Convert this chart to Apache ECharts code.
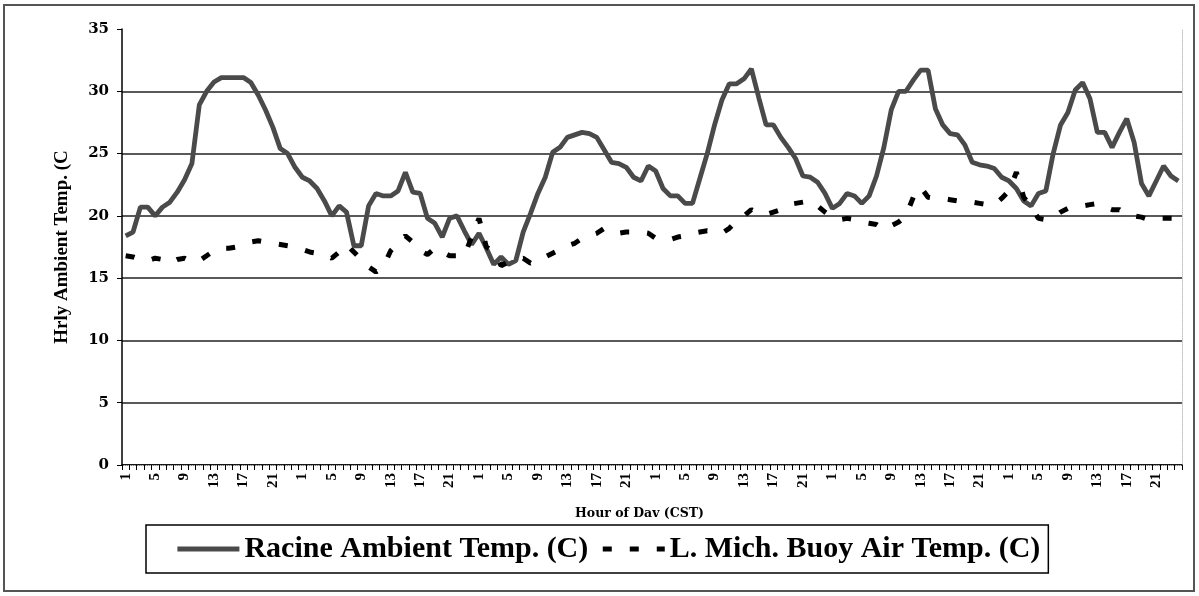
<!DOCTYPE html>
<html>
<head>
<meta charset="utf-8">
<script src="https://cdn.jsdelivr.net/npm/echarts@6/dist/echarts.min.js"></script>
<style>
html,body{margin:0;padding:0;background:#fff;}
#chart{width:1199px;height:596px;}
</style>
</head>
<body>
<div id="chart"></div>
<script>
// Hour-of-day tick labels (one day), repeated for each of the 6 days
var hourOfDay = [1,2,3,4,5,6,7,8,9,10,11,12,13,14,15,16,17,18,19,20,21,22,23,24];
var dayCount = 6;

// Racine Ambient Temp. (C), hourly, per day
var racineDay1 = [18.4,18.7,20.7,20.7,20.0,20.7,21.1,21.9,22.9,24.2,28.9,30.0,30.75,31.1,31.1,31.1,31.1,30.7,29.7,28.5,27.1,25.4,25.0,23.9];
var racineDay2 = [23.1,22.8,22.2,21.2,20.0,20.8,20.3,17.6,17.6,20.8,21.8,21.6,21.6,22.0,23.5,21.9,21.8,19.8,19.4,18.3,19.8,20.0,18.8,17.7];
var racineDay3 = [18.6,17.4,16.1,16.7,16.1,16.4,18.7,20.2,21.8,23.1,25.1,25.5,26.3,26.5,26.7,26.6,26.3,25.3,24.3,24.2,23.9,23.1,22.8,24.0];
var racineDay4 = [23.6,22.2,21.6,21.6,21.0,21.0,23.0,25.0,27.3,29.3,30.6,30.6,31.0,31.8,29.5,27.3,27.3,26.3,25.5,24.6,23.2,23.1,22.7,21.8];
var racineDay5 = [20.6,21.0,21.8,21.6,21.0,21.6,23.2,25.5,28.5,30.0,30.0,30.9,31.7,31.7,28.6,27.3,26.6,26.5,25.7,24.3,24.1,24.0,23.8,23.1];
var racineDay6 = [22.8,22.2,21.2,20.8,21.8,22.0,25.0,27.3,28.3,30.1,30.7,29.4,26.7,26.7,25.5,26.7,27.8,25.9,22.6,21.6,22.8,24.0,23.2,22.8];

// L. Mich. Buoy Air Temp. (C), hourly, per day
var buoyDay1 = [16.8,16.7,16.5,16.4,16.6,16.5,16.2,16.5,16.6,16.3,16.4,16.8,17.2,17.4,17.4,17.5,17.7,17.9,18.0,17.9,17.8,17.7,17.6,17.5];
var buoyDay2 = [17.3,17.1,17.0,16.9,16.6,17.1,17.7,17.1,16.5,15.9,15.5,15.9,17.2,17.8,18.4,17.9,17.2,16.9,17.4,17.1,16.8,16.8,16.8,18.3];
var buoyDay3 = [19.8,17.5,17.1,16.0,16.3,16.5,16.6,16.2,16.4,16.7,17.0,17.3,17.6,17.8,18.2,18.4,18.6,19.0,18.7,18.6,18.7,18.7,18.7,18.6];
var buoyDay4 = [18.2,18.1,18.1,18.3,18.4,18.6,18.7,18.8,18.7,18.6,19.0,19.6,20.0,20.5,20.2,20.1,20.3,20.5,20.9,21.0,21.1,21.2,20.8,20.3];
var buoyDay5 = [19.9,19.7,19.8,19.7,19.5,19.4,19.3,18.9,19.2,19.5,20.0,21.5,22.3,21.5,21.4,21.4,21.3,21.2,21.2,21.1,21.0,20.9,20.9,21.4];
var buoyDay6 = [22.0,23.5,21.5,20.7,19.8,19.7,19.9,20.3,20.6,20.7,20.8,20.9,21.0,20.7,20.5,20.5,20.1,20.0,19.9,19.7,19.8,19.8,19.8,19.8];

var racine = [].concat(racineDay1, racineDay2, racineDay3, racineDay4, racineDay5, racineDay6);
var buoy = [].concat(buoyDay1, buoyDay2, buoyDay3, buoyDay4, buoyDay5, buoyDay6);

var categories = [];
for (var d = 0; d < dayCount; d++) {
  for (var h = 0; h < hourOfDay.length; h++) categories.push(String(hourOfDay[h]));
}

var serif = "'Liberation Serif', 'Times New Roman', serif";
var wideSerif = "'DejaVu Serif', serif";
var racineStyle = {color: '#4a4a4a', width: 4.8};
var buoyStyle = {color: '#000', width: 5, type: [9, 18], cap: 'butt'};
var hiddenSymbol = {color: 'rgba(0,0,0,0)', borderWidth: 0, opacity: 0};

var chart = echarts.init(document.getElementById('chart'), null, {renderer: 'canvas'});
chart.setOption({
  animation: false,
  backgroundColor: '#fff',
  grid: {left: 122, top: 29, width: 1060, height: 436, containLabel: false},
  graphic: [
    {type: 'rect', shape: {x: 4, y: 5, width: 1190, height: 586},
     style: {fill: 'none', stroke: '#555', lineWidth: 2}, silent: true},
    {type: 'text', left: 575, top: 507,
     style: {text: 'Hour of Dav (CST)', font: 'bold 12.5px ' + wideSerif, fill: '#000'}}
  ],
  legend: {
    left: 146, top: 525,
    orient: 'horizontal',
    padding: [9, 8, 9, 29],
    itemGap: 12,
    itemWidth: 62,
    itemHeight: 14,
    borderColor: '#000',
    borderWidth: 1.5,
    textStyle: {fontFamily: serif, fontWeight: 'bold', fontSize: 30, color: '#000'},
    data: [
      {name: 'Racine Ambient Temp. (C)', itemStyle: hiddenSymbol, lineStyle: racineStyle},
      {name: 'L. Mich. Buoy Air Temp. (C)', itemStyle: hiddenSymbol, lineStyle: buoyStyle}
    ]
  },
  xAxis: [{
    type: 'category',
    data: categories,
    boundaryGap: true,
    axisLine: {lineStyle: {color: '#000', width: 1.5}},
    axisTick: {show: true, interval: 0, length: 5, lineStyle: {color: '#000', width: 1}},
    axisLabel: {interval: 3, rotate: 90, margin: 8, fontFamily: serif, fontWeight: 'bold', fontSize: 15, color: '#000'},
    splitLine: {show: false}
  }, {
    type: 'category',
    data: categories,
    position: 'top',
    axisLine: {lineStyle: {color: '#c4c0c8', width: 1, type: 'dotted'}},
    axisTick: {show: false},
    axisLabel: {show: false},
    splitLine: {show: false}
  }],
  yAxis: [{
    type: 'value',
    min: 0, max: 35, interval: 5,
    name: 'Hrly Ambient Temp. (C',
    nameLocation: 'middle',
    nameGap: 50,
    nameTextStyle: {fontFamily: serif, fontWeight: 'bold', fontSize: 19, color: '#000'},
    axisLine: {show: true, lineStyle: {color: '#000', width: 1.5}},
    axisTick: {show: true, length: 5, lineStyle: {color: '#000', width: 1}},
    axisLabel: {margin: 13, fontFamily: wideSerif, fontWeight: 'bold', fontSize: 15, color: '#000'},
    splitLine: {show: true, showMaxLine: false, lineStyle: {color: '#222', width: 1.5}}
  }, {
    type: 'value',
    min: 0, max: 35, interval: 5,
    position: 'right',
    axisLine: {show: true, lineStyle: {color: '#c4c0c8', width: 1, type: 'dotted'}},
    axisTick: {show: false},
    axisLabel: {show: false},
    splitLine: {show: false}
  }],
  series: [{
    name: 'Racine Ambient Temp. (C)',
    type: 'line',
    data: racine,
    symbol: 'none',
    lineStyle: racineStyle,
    itemStyle: {color: '#4a4a4a'},
    z: 3
  }, {
    name: 'L. Mich. Buoy Air Temp. (C)',
    type: 'line',
    data: buoy,
    symbol: 'none',
    lineStyle: buoyStyle,
    itemStyle: {color: '#000'},
    z: 4
  }]
});
</script>
</body>
</html>
